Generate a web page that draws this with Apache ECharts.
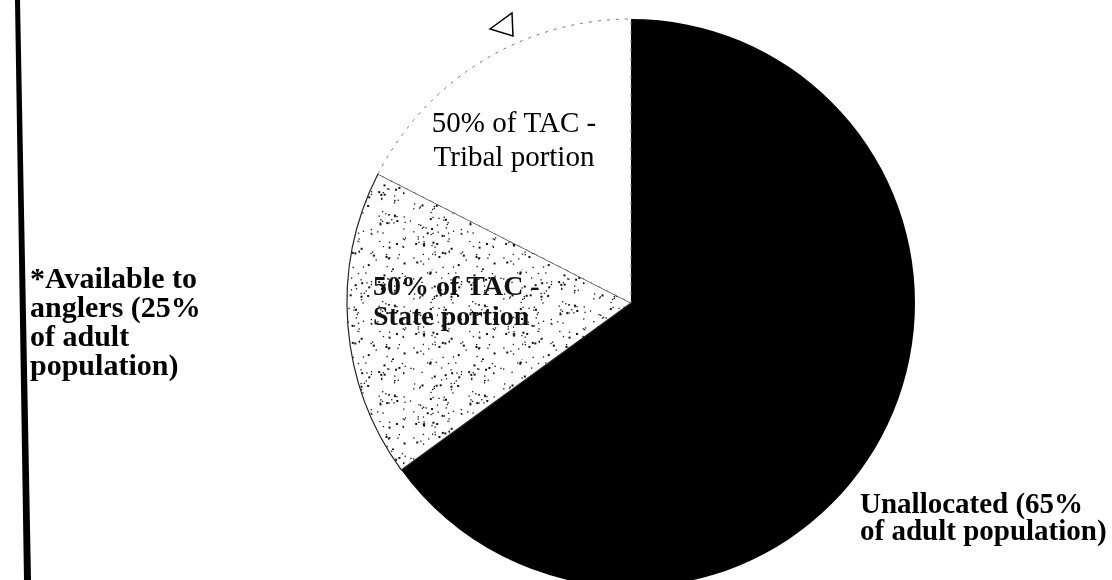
<!DOCTYPE html>
<html>
<head>
<meta charset="utf-8">
<script src="https://cdn.jsdelivr.net/npm/echarts@6/dist/echarts.min.js"></script>
<style>
  html, body { margin: 0; padding: 0; background: #fff; }
  #main { width: 1112px; height: 580px; }
</style>
</head>
<body>
<div id="main"></div>
<script>
// slices, clockwise from 12 o'clock
var categories = ['Unallocated', '50% of TAC - State portion', '50% of TAC - Tribal portion'];
var values = [65, 17.5, 17.5];

// label texts
var leftNote = '*Available to\nanglers (25%\nof adult\npopulation)';
var unallocLabel = 'Unallocated (65%\nof adult population)';
var stateLabel = '50% of TAC -\nState portion';
var tribalLabel = '50% of TAC -\nTribal portion';

// stipple texture for the state slice (fixed seed so it is the same every run)
function makeStipple() {
  var c = document.createElement('canvas');
  c.width = 90; c.height = 90;
  var ctx = c.getContext('2d');
  ctx.fillStyle = '#fff';
  ctx.fillRect(0, 0, 90, 90);
  ctx.fillStyle = '#111';
  var s = 12345;
  function rnd() { s = (s * 1103515245 + 12345) % 2147483648; return s / 2147483648; }
  for (var i = 0; i < 170; i++) {
    var x = rnd() * 90, y = rnd() * 90;
    var w = rnd() < 0.3 ? 2 : 1.3;
    ctx.fillRect(x, y, w, w);
  }
  return c;
}

var myChart = echarts.init(document.getElementById('main'));
var serif = '"Liberation Serif", "Times New Roman", serif';

var colors = ['#000', { image: makeStipple(), repeat: 'repeat' }, '#fff'];
var borders = [
  { borderWidth: 0 },
  { borderColor: '#222', borderWidth: 1.2, borderType: 'solid' },
  { borderColor: '#777', borderWidth: 1, borderType: [3, 6] }
];

var option = {
  backgroundColor: '#fff',
  animation: false,
  series: [
    {
      type: 'pie',
      center: [631, 303],
      radius: 284,
      startAngle: 90,
      clockwise: true,
      silent: true,
      z: 1,
      label: { show: false },
      labelLine: { show: false },
      data: categories.map(function (name, i) {
        return {
          name: name,
          value: values[i],
          itemStyle: Object.assign({ color: colors[i] }, borders[i])
        };
      })
    }
  ],
  graphic: {
    elements: [
      // vertical rule on the left
      {
        type: 'polygon', z: 100,
        shape: { points: [[15, 0], [20, 0], [31, 580], [24, 580]] },
        style: { fill: '#000' }
      },
      // small triangle mark at top
      {
        type: 'polygon', z: 100,
        shape: { points: [[490, 29], [512, 13], [513, 36]] },
        style: { fill: 'none', stroke: '#000', lineWidth: 1.5 }
      },
      {
        type: 'text', x: 30, y: 266, z: 100,
        style: { text: leftNote, font: 'bold 30px ' + serif, lineHeight: 29, fill: '#000' }
      },
      {
        type: 'text', x: 860, y: 492, z: 100,
        style: { text: unallocLabel, font: 'bold 29px ' + serif, lineHeight: 27, fill: '#000' }
      },
      {
        type: 'text', x: 373, y: 273, z: 100,
        style: { text: stateLabel, font: 'bold 28px ' + serif, lineHeight: 30, fill: '#111' }
      },
      {
        type: 'text', x: 514, y: 107, z: 100,
        style: { text: tribalLabel, font: '29px ' + serif, lineHeight: 34, fill: '#000', align: 'center' }
      }
    ]
  }
};
myChart.setOption(option);
window.addEventListener('resize', function () {
  myChart.resize();
});
</script>
</body>
</html>
